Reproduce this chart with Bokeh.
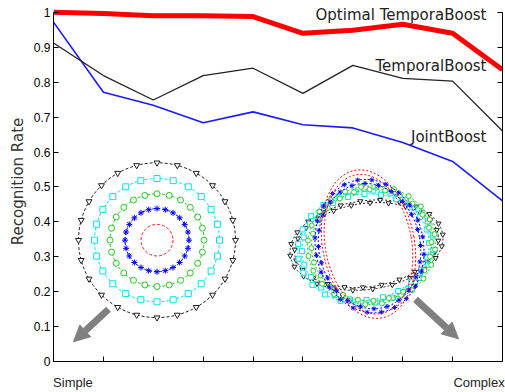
import numpy as np
from bokeh.plotting import figure
from bokeh.models import (Range1d, LinearAxis, Label, Arrow, NormalHead,
                          FixedTicker, NumeralTickFormatter)
from bokeh.embed import file_html
from bokeh.resources import INLINE

# ---- data ----
x_idx = [0, 1, 2, 3, 4, 5, 6, 7, 8, 9]
optimal = [1.0, 0.997, 0.99, 0.99, 0.988, 0.94, 0.949, 0.966, 0.94, 0.836]
temporal = [0.912, 0.819, 0.749, 0.819, 0.84, 0.768, 0.848, 0.811, 0.803, 0.66]
joint = [0.972, 0.771, 0.734, 0.684, 0.715, 0.678, 0.669, 0.627, 0.573, 0.46]
y_ticks = [0, 0.1, 0.2, 0.3, 0.4, 0.5, 0.6, 0.7, 0.8, 0.9, 1.0]
series_names = ["Optimal TemporaBoost", "TemporalBoost", "JointBoost"]
x_end_labels = ["Simple", "Complex"]
x_end_label_pos = [0.39, 8.53]

# ---- decorative inset illustrations (pixel-space parameters) ----
ring_colors = ["#202020", "#00e5ee", "#22cc22", "#0000ff", "#ff0000"]
ring_markers = ["inverted_triangle", "square", "circle", "asterisk", None]
left_radii = [78.5, 62.5, 47, 32, 16]
left_center = (156.5, 243)
right_rx = [77, 68, 64, 54, 46]
right_ry = [45, 57, 60, 68, 76]
right_cx = [366, 365, 371, 369, 368]
right_cy = [248, 250, 248, 249, 247]
right_rot = [-8, -10, -10, -10, -10]

# frame: y=0 at canvas 366, y=1 at canvas 12 (354 px/unit); frame extends to canvas 1
y_top = 1 + 11 / 354
p = figure(width=505, height=392, x_range=Range1d(0, 9), y_range=Range1d(0, y_top),
           output_backend="svg", toolbar_location=None,
           min_border_left=53, min_border_right=3, min_border_top=1, min_border_bottom=26)
p.extra_x_ranges = {"px": Range1d(53, 502)}
p.extra_y_ranges = {"px": Range1d(366, 1)}
p.outline_line_color = None
p.grid.visible = False
p.background_fill_color = "white"

# axes
p.xaxis.ticker = FixedTicker(ticks=x_idx)
p.xaxis.major_label_overrides = {i: "" for i in x_idx}
p.xaxis.major_label_text_font_size = "0px"
p.xaxis.major_label_standoff = 0
p.xaxis.major_tick_in = 5
p.xaxis.major_tick_out = 0
p.xaxis.minor_tick_line_color = None
p.xaxis.axis_line_color = "black"

lab_axis = LinearAxis(ticker=FixedTicker(ticks=x_end_label_pos),
                      major_label_overrides=dict(zip(x_end_label_pos, x_end_labels)),
                      axis_line_color=None, major_tick_line_color=None,
                      minor_tick_line_color=None, major_label_text_font="Liberation Sans",
                      major_label_text_font_size="13px", major_label_text_color="#222222",
                      major_label_standoff=7)
p.add_layout(lab_axis, "below")

p.yaxis.ticker = FixedTicker(ticks=y_ticks)
p.yaxis.bounds = (0, 1)
p.yaxis.formatter = NumeralTickFormatter(format="0.[0]")
p.yaxis.major_tick_in = 5
p.yaxis.major_tick_out = 0
p.yaxis.minor_tick_line_color = None
p.yaxis.major_label_text_font = "Liberation Sans"
p.yaxis.major_label_text_font_size = "12px"
p.yaxis.major_label_text_color = "black"
p.yaxis.major_label_standoff = 3
p.yaxis.axis_label = "Recognition Rate"
p.yaxis.axis_label_text_font = "DejaVu Sans"
p.yaxis.axis_label_text_font_size = "15px"
p.yaxis.axis_label_text_font_style = "normal"
p.yaxis.axis_label_text_color = "#333333"
p.yaxis.axis_label_standoff = 4

r_axis = LinearAxis(ticker=FixedTicker(ticks=y_ticks), major_label_text_font_size="0px",
                    major_label_overrides={t: "" for t in y_ticks}, bounds=(0, 1),
                    major_tick_in=5, major_tick_out=0, minor_tick_line_color=None,
                    major_label_standoff=0)
p.add_layout(r_axis, "right")

# ---- insets ----
ang24 = np.deg2rad(90 + np.arange(24) * 15.0)
angs = np.linspace(0, 2 * np.pi, 121)
for col, mk, r in zip(ring_colors, ring_markers, left_radii):
    cx, cy = left_center
    p.line(cx + r * np.cos(angs), cy + r * np.sin(angs), x_range_name="px", y_range_name="px",
           line_color=col, line_width=1, line_dash="3 2")
    if mk:
        p.scatter(cx + r * np.cos(ang24), cy + r * np.sin(ang24), marker=mk, size=6,
                  x_range_name="px", y_range_name="px", line_color=col,
                  fill_color="white" if mk != "asterisk" else col, line_width=1)

for col, mk, rx, ry, cx, cy, rot in zip(ring_colors, ring_markers, right_rx, right_ry,
                                        right_cx, right_cy, right_rot):
    th = np.deg2rad(rot)
    for k, sc in enumerate([1.0, 0.94]):
        for pts, is_line in ((angs, True), (ang24 + np.deg2rad(7.5 * k), False)):
            ex = rx * sc * np.cos(pts)
            ey = ry * sc * np.sin(pts)
            X = cx + ex * np.cos(th) - ey * np.sin(th)
            Y = cy + ex * np.sin(th) + ey * np.cos(th)
            if is_line:
                p.line(X, Y, x_range_name="px", y_range_name="px", line_color=col,
                       line_width=1, line_dash="2 2")
            elif mk:
                p.scatter(X, Y, marker=mk, size=5, x_range_name="px", y_range_name="px",
                          line_color=col, fill_color="white" if mk != "asterisk" else col,
                          line_width=1)

gray = "#808080"
for (xs, ys, xe, ye) in [(108, 313, 73, 346), (415, 303, 458, 343)]:
    p.add_layout(Arrow(end=NormalHead(size=16, fill_color=gray, line_color=gray),
                       x_start=xs, y_start=ys, x_end=xe, y_end=ye,
                       line_color=gray, line_width=7,
                       x_range_name="px", y_range_name="px"))

# ---- series ----
p.line(x_idx, joint, line_color="#1a1aff", line_width=1.6)
p.line(x_idx, temporal, line_color="#222222", line_width=1.3)
p.line(x_idx, optimal, line_color="#ff0000", line_width=5, line_join="round")

for name, ypx in zip(series_names, [15, 66, 138]):
    p.add_layout(Label(x=486, y=ypx, x_range_name="px", y_range_name="px", text=name,
                       text_align="right", text_baseline="middle", text_font="DejaVu Sans",
                       text_font_size="15px", text_color="#222222"))

open("out.html", "w").write(file_html(p, INLINE))
